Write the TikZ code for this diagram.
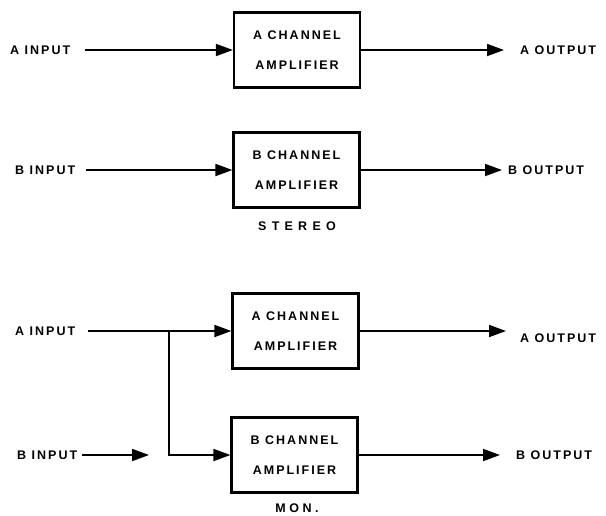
\documentclass[tikz,border=0pt]{standalone}
\usepackage{fontspec}
\usetikzlibrary{arrows.meta}
\setmainfont{Liberation Sans}
\newfontfamily\lettering{Liberation Sans}[LetterSpace=16]
\newfontfamily\steroletter{Liberation Sans}[LetterSpace=42]
\newfontfamily\monoletter{Liberation Sans}[LetterSpace=28]

\begin{document}
\begin{tikzpicture}[x=1pt,y=-1pt,
  every node/.style={font=\lettering\bfseries\fontsize{12.5}{14}\selectfont},
  amp/.style={draw,line width=2.2pt,minimum width=126pt,minimum height=75pt,align=center,inner sep=0pt},
  lbl/.style={inner sep=0pt},
  feed/.style={line width=1.8pt,-{Triangle[length=17pt,width=12pt]}}]
\useasboundingbox (0,0) rectangle (606,515);
% stereo
\node[amp] (ampA) at (297,50) {A CHANNEL\\[16pt]AMPLIFIER};
\node[amp] (ampB) at (296.5,170) {B CHANNEL\\[16pt]AMPLIFIER};
\node[lbl,anchor=west] (inA) at (10,50) {A INPUT};
\node[lbl,anchor=west] (inB) at (15,170) {B INPUT};
\node[lbl,anchor=west] (outA) at (520,50) {A OUTPUT};
\node[lbl,anchor=west] (outB) at (508,170) {B OUTPUT};
\node[lbl,font=\steroletter\bfseries\fontsize{12.5}{14}\selectfont] (stereo) at (297,226) {STEREO};
\draw[feed,shorten <=15pt] (inA) -- (ampA);
\draw[feed,shorten <=11pt] (inB) -- (ampB);
\draw[feed,shorten >=16pt] (ampA) -- (outA);
\draw[feed,shorten >=6pt] (ampB) -- (outB);
% mono
\node[amp] (monA) at (295.5,331) {A CHANNEL\\[16pt]AMPLIFIER};
\node[amp] (monB) at (294.5,455) {B CHANNEL\\[16pt]AMPLIFIER};
\node[lbl,anchor=west] (inA2) at (15,331) {A INPUT};
\node[lbl,anchor=west] (inB2) at (17,455) {B INPUT};
\node[lbl,anchor=west] (outA2) at (520,338) {A OUTPUT};
\node[lbl,anchor=west] (outB2) at (516,455) {B OUTPUT};
\node[lbl,font=\monoletter\bfseries\fontsize{12.5}{14}\selectfont] (mon) at (297,508) {MON.};
\coordinate (split) at (169,331);
\coordinate (stubB) at (149,455);
\draw[feed,shorten <=13pt] (inA2) -- (monA);
\draw[feed] (split) |- (monB);
\draw[feed,shorten <=5pt] (inB2) -- (stubB);
\draw[feed,shorten >=14pt] (monA.east) -- (monA.east -| outA2.west);
\draw[feed,shorten >=16pt] (monB) -- (outB2);
\end{tikzpicture}
\end{document}
